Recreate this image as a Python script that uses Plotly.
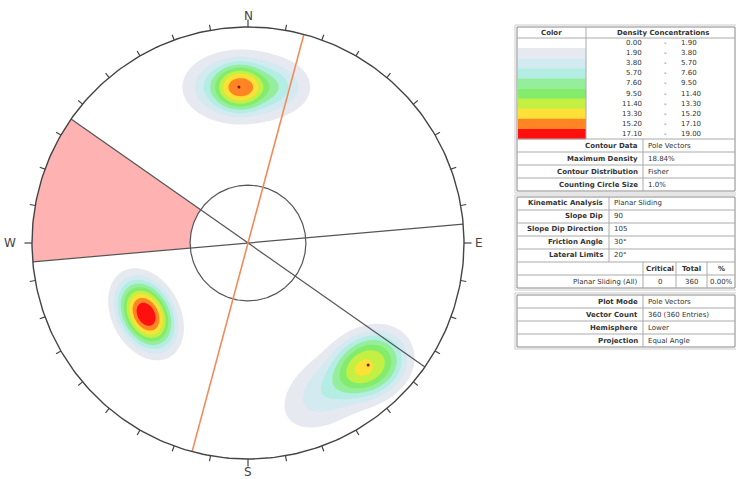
import numpy as np
import plotly.graph_objects as go

# ---------------- data ----------------
density_levels = [0.00, 1.90, 3.80, 5.70, 7.60, 9.50, 11.40, 13.30, 15.20, 17.10, 19.00]
level_colors = ["#ffffff", "#e7e9f1", "#d3eaf1", "#b3ede4", "#94ee9c", "#84ec6c",
                "#c4f044", "#ffe036", "#ff8424", "#ff1010"]

# pole density clusters, in projected (unit circle) coordinates
cluster_x = [-0.038, -0.040, 0.165, -0.472, 0.572, 0.388]
cluster_y = [0.722, 0.720, 0.722, -0.330, -0.560, -0.668]
cluster_sig_major = [0.140, 0.080, 0.095, 0.116, 0.125, 0.166]
cluster_sig_minor = [0.091, 0.078, 0.078, 0.081, 0.105, 0.100]
cluster_angle = [0.0, 0.0, 0.0, -62.0, 30.0, 35.0]
cluster_shape = [1.0, 1.5, 1.0, 1.14, 1.3, 1.0]
cluster_peak = [11.5, 5.0, 2.6, 18.84, 10.9, 5.7]
peak_dot_x = [-0.042, 0.556]
peak_dot_y = [0.722, -0.565]

slope_dip = 90
slope_dip_direction = 105
friction_angle = 30
lateral_limit = 20
compass_labels = ["N", "E", "S", "W"]
compass_az = [0, 90, 180, 270]
tick_step = 10

legend_header = ["Color", "Density Concentrations"]
contour_rows = [("Contour Data", "Pole Vectors"), ("Maximum Density", "18.84%"),
                ("Contour Distribution", "Fisher"), ("Counting Circle Size", "1.0%")]
kin_rows = [("Kinematic Analysis", "Planar Sliding"), ("Slope Dip", "90"),
            ("Slope Dip Direction", "105"), ("Friction Angle", "30°"),
            ("Lateral Limits", "20°")]
result_header = ["Critical", "Total", "%"]
result_row = ["Planar Sliding (All)", "0", "360", "0.00%"]
plot_rows = [("Plot Mode", "Pole Vectors"), ("Vector Count", "360 (360 Entries)"),
             ("Hemisphere", "Lower"), ("Projection", "Equal Angle")]

# ---------------- figure geometry ----------------
W, H = 736, 479
CX, CY, R = 248.0, 243.0, 216.0

def pol(az_deg, r):
    a = np.radians(az_deg)
    return r * np.sin(a), r * np.cos(a)

fig = go.Figure()

# density grid
g = np.linspace(-1, 1, 451)
GX, GY = np.meshgrid(g, g)
Z = np.zeros_like(GX)
for cx, cy, sa, sb, ang, p, pk in zip(cluster_x, cluster_y, cluster_sig_major,
                                      cluster_sig_minor, cluster_angle, cluster_shape,
                                      cluster_peak):
    t = np.radians(ang)
    dx, dy = GX - cx, GY - cy
    u = dx * np.cos(t) + dy * np.sin(t)
    v = -dx * np.sin(t) + dy * np.cos(t)
    q = (u / sa) ** 2 + (v / sb) ** 2
    Z += pk * np.exp(-0.5 * q ** p)
Z[GX ** 2 + GY ** 2 > 1] = 0

n = len(level_colors)
cscale = [[k / (n - 1), c] for k, c in enumerate(level_colors)]
fig.add_trace(go.Contour(
    x=g, y=g, z=Z, colorscale=cscale, showscale=False, autocontour=False,
    contours=dict(start=density_levels[1], end=density_levels[-2] + 0.05,
                  size=density_levels[2] - density_levels[1], coloring="fill",
                  showlines=False),
    line=dict(width=0), hoverinfo="skip"))

# critical zone (planar sliding, poles)
rf = np.tan(np.radians(friction_angle) / 2)
pole_dir = (slope_dip_direction + 180) % 360
a1, a2 = pole_dir - lateral_limit, pole_dir + lateral_limit
arc = np.linspace(a1, a2, 60)
ox, oy = pol(arc, 1.0)
ix, iy = pol(arc[::-1], rf)
fig.add_trace(go.Scatter(x=np.r_[ox, ix, ox[:1]], y=np.r_[oy, iy, oy[:1]],
                         fill="toself", fillcolor="#ffb2b2", line=dict(width=0),
                         mode="lines", hoverinfo="skip"))

# friction circle
th = np.linspace(0, 360, 361)
fx, fy = pol(th, rf)
fig.add_trace(go.Scatter(x=fx, y=fy, mode="lines", line=dict(color="#555", width=1.2),
                         hoverinfo="skip"))

# lateral limit lines
for a in (slope_dip_direction - lateral_limit, slope_dip_direction + lateral_limit):
    x0, y0 = pol(a, 1.0)
    x1, y1 = pol(a + 180, 1.0)
    fig.add_trace(go.Scatter(x=[x0, x1], y=[y0, y1], mode="lines",
                             line=dict(color="#555", width=1.2), hoverinfo="skip"))

# slope plane (vertical -> straight line along strike)
strike = slope_dip_direction - 90
x0, y0 = pol(strike, 1.0)
x1, y1 = pol(strike + 180, 1.0)
fig.add_trace(go.Scatter(x=[x0, x1], y=[y0, y1], mode="lines",
                         line=dict(color="#f28a5a", width=1.6), hoverinfo="skip"))

# primitive circle
px_, py_ = pol(th, 1.0)
fig.add_trace(go.Scatter(x=px_, y=py_, mode="lines", line=dict(color="#444", width=1.4),
                         hoverinfo="skip"))

# ticks
tx, ty = [], []
for a in range(0, 360, tick_step):
    r1 = 1.035 if a in compass_az else 1.026
    x0, y0 = pol(a, 1.0)
    x1, y1 = pol(a, r1)
    tx += [x0, x1, None]
    ty += [y0, y1, None]
fig.add_trace(go.Scatter(x=tx, y=ty, mode="lines", line=dict(color="#444", width=1.2),
                         hoverinfo="skip"))

# peak dots
fig.add_trace(go.Scatter(x=peak_dot_x, y=peak_dot_y, mode="markers",
                         marker=dict(color="#8b1010", size=3), hoverinfo="skip"))

# compass labels
lab_r = {"N": 1.052, "E": 1.07, "S": 1.062, "W": 1.1}
for lab, a in zip(compass_labels, compass_az):
    lx, ly = pol(a, lab_r[lab])
    fig.add_annotation(x=lx, y=ly, text=lab, showarrow=False,
                       font=dict(family="DejaVu Sans", size=12, color="#444"),
                       xanchor="center", yanchor="middle")

# ---------------- tables (pixel helpers) ----------------
def X(p):
    return p / W

def Y(p):
    return 1 - p / H

shapes = []
FONT = "DejaVu Sans"
TXT = "#333"

def hline(x0, x1, y, color="#aaa", w=1):
    shapes.append(dict(type="line", xref="paper", yref="paper", x0=X(x0), x1=X(x1),
                       y0=Y(y), y1=Y(y), line=dict(color=color, width=w)))

def vline(x, y0, y1, color="#aaa", w=1):
    shapes.append(dict(type="line", xref="paper", yref="paper", x0=X(x), x1=X(x),
                       y0=Y(y0), y1=Y(y1), line=dict(color=color, width=w)))

def box(x0, y0, x1, y1, fill=None, color="#888", w=1):
    d = dict(type="rect", xref="paper", yref="paper", x0=X(x0), x1=X(x1),
             y0=Y(y1), y1=Y(y0), line=dict(color=color, width=w))
    if fill:
        d["fillcolor"] = fill
        d["line"] = dict(width=0)
    shapes.append(d)

def text(x, y, s, anchor="left", bold=False, size=7):
    fig.add_annotation(xref="paper", yref="paper", x=X(x), y=Y(y),
                       text=f"<b>{s}</b>" if bold else s, showarrow=False,
                       xanchor=anchor, yanchor="middle",
                       font=dict(family=FONT, size=size, color=TXT))

L, RR = 517, 735
# table 1
t1_top, hdr_b = 27, 38
crow = 10.1
col_b = hdr_b + crow * (len(level_colors))
row_h = 13
t1_bot = col_b + row_h * len(contour_rows)
for k, c in enumerate(level_colors):
    box(L + 1, hdr_b + k * crow, 586, hdr_b + (k + 1) * crow + 0.3, fill=c)
box(L, t1_top, RR, t1_bot)
box(L - 2, t1_top - 2, RR + 2, t1_bot + 2, color="#ccc")
hline(L, RR, hdr_b)
vline(586, t1_top, col_b)
hline(L, RR, col_b)
for k in range(1, len(contour_rows)):
    hline(L, RR, col_b + k * row_h)
vline(643, col_b, t1_bot)
text(551, (t1_top + hdr_b) / 2, legend_header[0], "center", True)
text(663, (t1_top + hdr_b) / 2, legend_header[1], "center", True)
for k in range(len(level_colors)):
    yc = hdr_b + (k + 0.5) * crow
    text(644, yc, f"{density_levels[k]:.2f}", "right")
    text(665, yc, "-", "center")
    text(679, yc, f"{density_levels[k + 1]:.2f}", "left")
for k, (a, b) in enumerate(contour_rows):
    yc = col_b + (k + 0.5) * row_h
    text(640, yc, a, "right", True)
    text(646, yc, b, "left")

# table 2
t2_top = 197
t2_bot = t2_top + row_h * (len(kin_rows) + 2)
box(L, t2_top, RR, t2_bot)
box(L - 2, t2_top - 2, RR + 2, t2_bot + 2, color="#ccc")
for k in range(1, len(kin_rows) + 2):
    hline(L, RR, t2_top + k * row_h)
vline(609, t2_top, t2_top + row_h * len(kin_rows))
for k, (a, b) in enumerate(kin_rows):
    yc = t2_top + (k + 0.5) * row_h
    text(605, yc, a, "right", True)
    text(612, yc, b, "left")
ry0 = t2_top + row_h * len(kin_rows)
cols = [643, 676, 707, RR]
for c in cols[:-1]:
    vline(c, ry0, t2_bot)
for k, s in enumerate(result_header):
    text((cols[k] + cols[k + 1]) / 2, ry0 + row_h / 2, s, "center", True)
text(640, ry0 + 1.5 * row_h, result_row[0], "right")
for k, s in enumerate(result_row[1:]):
    text((cols[k] + cols[k + 1]) / 2, ry0 + 1.5 * row_h, s, "center")

# table 3
t3_top = 295
t3_bot = t3_top + row_h * len(plot_rows)
box(L, t3_top, RR, t3_bot)
box(L - 2, t3_top - 2, RR + 2, t3_bot + 2, color="#ccc")
for k in range(1, len(plot_rows)):
    hline(L, RR, t3_top + k * row_h)
vline(643, t3_top, t3_bot)
for k, (a, b) in enumerate(plot_rows):
    yc = t3_top + (k + 0.5) * row_h
    text(640, yc, a, "right", True)
    text(646, yc, b, "left")

fig.update_layout(
    width=W, height=H, margin=dict(l=0, r=0, t=0, b=0), autosize=False,
    paper_bgcolor="white", plot_bgcolor="white", showlegend=False, shapes=shapes,
    xaxis=dict(range=[-CX / R, (W - CX) / R], visible=False, fixedrange=True),
    yaxis=dict(range=[-(H - CY) / R, CY / R], visible=False, fixedrange=True),
)
fig.write_html("out.html", config={"displayModeBar": False},
               post_script="document.body.style.margin='0';")
